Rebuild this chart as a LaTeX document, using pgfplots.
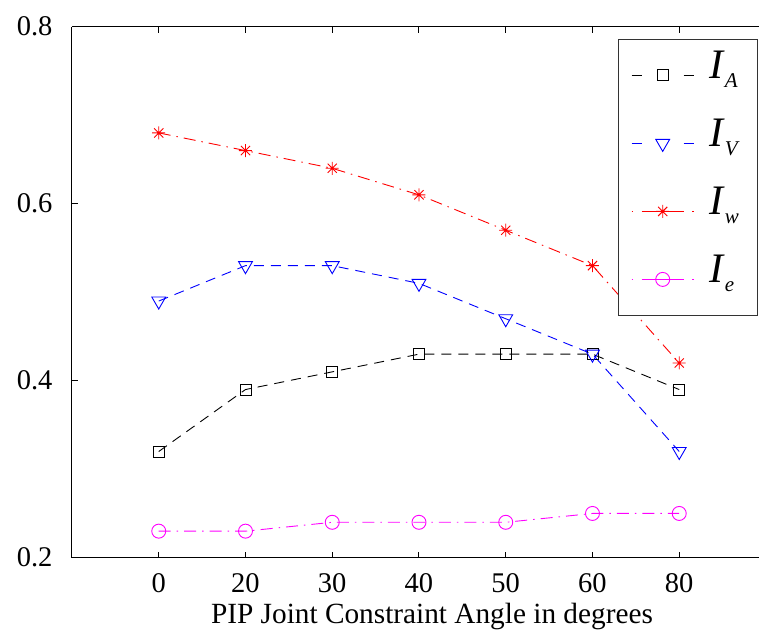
\documentclass[border=0pt]{standalone}
\usepackage{pgfplots}
\pgfplotsset{compat=1.18}
\usepackage{fontspec}
\setmainfont{Liberation Serif}
\definecolor{mblue}{RGB}{0,0,255}
\definecolor{mred}{RGB}{255,0,0}
\definecolor{mmag}{RGB}{255,0,255}
\pgfdeclareplotmark{ast8}{%
  \pgfpathmoveto{\pgfqpoint{0pt}{\pgfplotmarksize}}\pgfpathlineto{\pgfqpoint{0pt}{-\pgfplotmarksize}}%
  \pgfpathmoveto{\pgfqpoint{\pgfplotmarksize}{0pt}}\pgfpathlineto{\pgfqpoint{-\pgfplotmarksize}{0pt}}%
  \pgfpathmoveto{\pgfqpoint{0.707\pgfplotmarksize}{0.707\pgfplotmarksize}}\pgfpathlineto{\pgfqpoint{-0.707\pgfplotmarksize}{-0.707\pgfplotmarksize}}%
  \pgfpathmoveto{\pgfqpoint{0.707\pgfplotmarksize}{-0.707\pgfplotmarksize}}\pgfpathlineto{\pgfqpoint{-0.707\pgfplotmarksize}{0.707\pgfplotmarksize}}%
  \pgfusepathqstroke}
\pgfplotsset{
  legdash/.style={legend image code/.code={%
    \draw[##1,color=#1,draw=#1,dash pattern=on 10pt off 42pt on 10pt] (0pt,0pt) -- (62pt,0pt);
    \draw[##1,color=#1,draw=#1,only marks,mark repeat=2,mark phase=2] plot coordinates {(0pt,0pt) (31pt,0pt) (62pt,0pt)};}},
  legdot/.style={legend image code/.code={%
    \draw[##1,color=#1,draw=#1,dash pattern=on 1.5pt off 8.5pt on 42pt off 8.5pt on 1.5pt] (0pt,0pt) -- (62pt,0pt);
    \draw[##1,color=#1,draw=#1,only marks,mark repeat=2,mark phase=2] plot coordinates {(0pt,0pt) (31pt,0pt) (62pt,0pt)};}},
}
\newcommand{\leg}[1]{\makebox[35pt][l]{\fontsize{42}{42}\selectfont\textit{I}\raisebox{-9pt}{\fontsize{21}{21}\selectfont\textit{#1}}}}
\begin{document}
\begin{tikzpicture}[x=1pt,y=1pt]
\useasboundingbox (0,0) rectangle (759,640);
\clip (0,0) rectangle (759,640);
\begin{axis}[
  at={(83,93)}, anchor=south west,
  scale only axis, width=720pt, height=531pt,
  xmin=-1, xmax=7.3, ymin=0.2, ymax=0.8,
  axis x line*=box, axis y line*=left,
  axis line style={line width=1pt, black},
  xtick={0,1,2,3,4,5,6}, xticklabels={0,20,30,40,50,60,80},
  ytick={0.2,0.4,0.6,0.8}, yticklabels={0.2,0.4,0.6,0.8},
  tick align=inside, major tick length=6pt,
  tick style={line width=1pt, black},
  /pgf/number format/assume math mode=true,
  ticklabel style={font=\fontsize{28.5}{29}\selectfont},
  xticklabel style={yshift=-12pt},
  yticklabel style={xshift=-16pt},
  xlabel={PIP Joint Constraint Angle in degrees},
  xlabel style={font=\fontsize{29.3}{30}\selectfont, at={(axis description cs:0.5,0)}, anchor=base, yshift=-66pt},
  legend style={at={(axis description cs:0.758,0.977)}, anchor=north west,
    draw=black!80, line width=1pt, inner xsep=13pt, inner ysep=14.5pt,
    row sep=25pt, column sep=15pt,
    nodes={inner sep=0pt, text height=25pt, text depth=18pt}},
  legend cell align=left,
  every axis plot/.append style={line width=0.9pt},
]
\addplot[black, dash pattern=on 10pt off 7pt, mark=square, mark size=5.5pt, mark options={solid}, legdash=black]
  coordinates {(0,0.32) (1,0.39) (2,0.41) (3,0.43) (4,0.43) (5,0.43) (6,0.39)};
\addlegendentry{\leg{A}}
\addplot[mblue, dash pattern=on 10pt off 7pt, mark=triangle, mark size=8pt, mark options={solid, rotate=180}, legdash=mblue]
  coordinates {(0,0.49) (1,0.53) (2,0.53) (3,0.51) (4,0.47) (5,0.43) (6,0.32)};
\addlegendentry{\leg{V}}
\addplot[mred, dash pattern=on 12pt off 6pt on 1.5pt off 6pt, mark=ast8, mark size=6.5pt, mark options={solid}, legdot=mred]
  coordinates {(0,0.68) (1,0.66) (2,0.64) (3,0.61) (4,0.57) (5,0.53) (6,0.42)};
\addlegendentry{\leg{w}}
\addplot[mmag, dash pattern=on 12pt off 6pt on 1.5pt off 6pt, mark=o, mark size=7pt, mark options={solid}, legdot=mmag]
  coordinates {(0,0.23) (1,0.23) (2,0.24) (3,0.24) (4,0.24) (5,0.25) (6,0.25)};
\addlegendentry{\leg{e}}
\end{axis}
\end{tikzpicture}
\end{document}
